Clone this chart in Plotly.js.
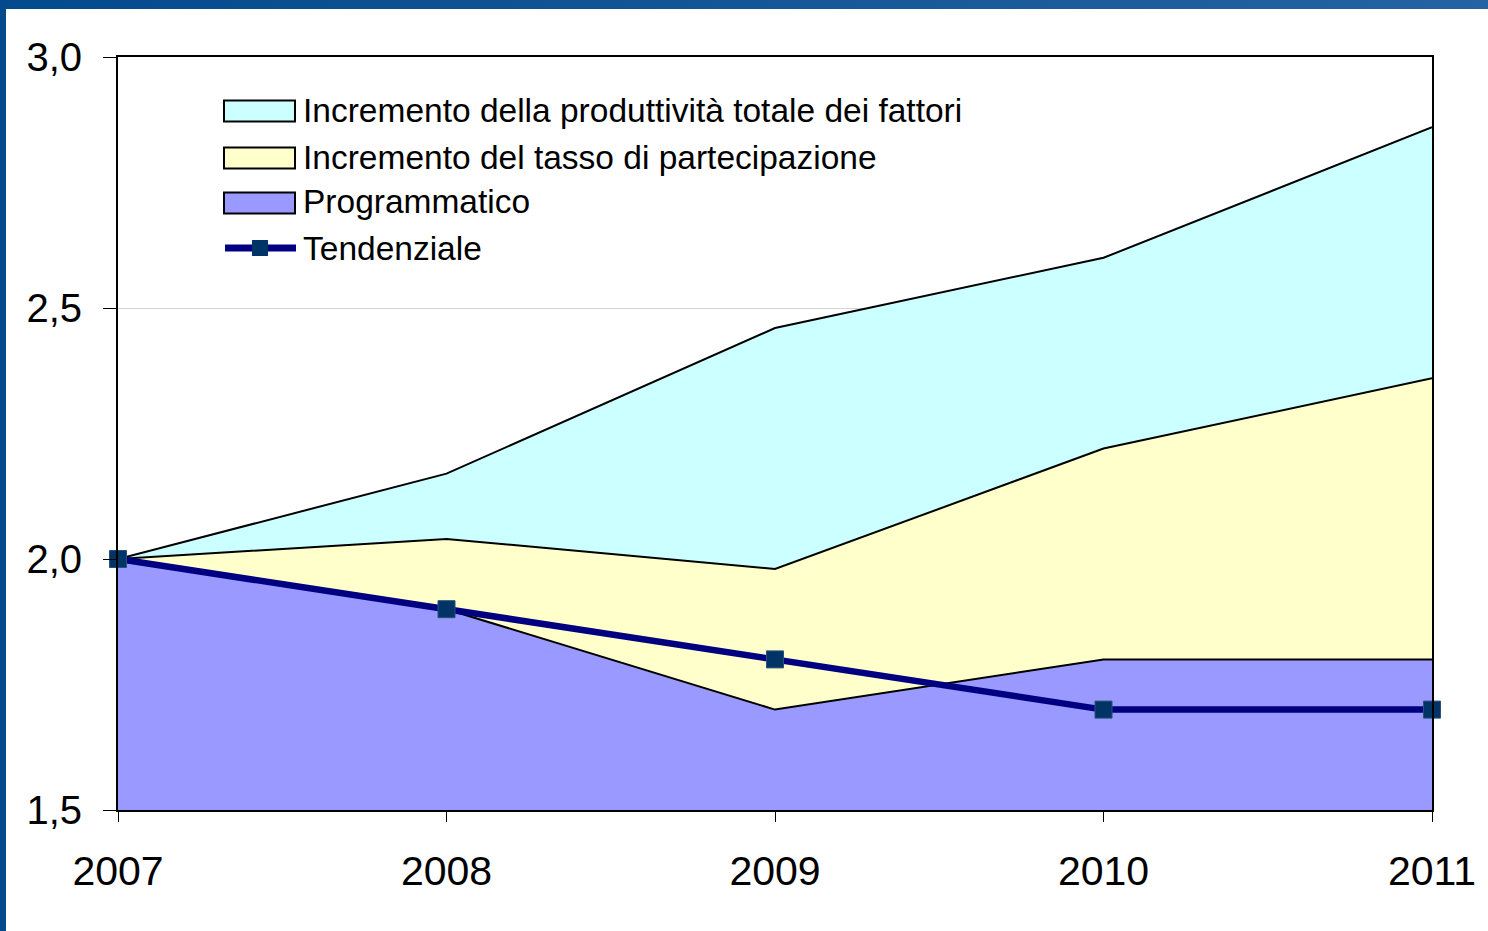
<!DOCTYPE html>
<html>
<head>
<meta charset="utf-8">
<script src="https://cdn.plot.ly/plotly-3.0.1.min.js"></script>
<style>
html,body{margin:0;padding:0;background:#fff;}
#frame{position:absolute;left:0;top:0;width:1488px;height:931px;background:linear-gradient(to right,#034a8c,#2563a3);}
#chart{position:absolute;left:6px;top:9px;width:1482px;height:922px;background:#fff;}
</style>
</head>
<body>
<div id="frame"></div>
<div id="chart"></div>
<script>
var years = [2007, 2008, 2009, 2010, 2011];
var programmatico = [2.0, 1.9, 1.7, 1.8, 1.8];
var incrementoTasso = [0, 0.14, 0.28, 0.42, 0.56];
var incrementoPTF = [0, 0.13, 0.48, 0.38, 0.50];
var tendenziale = [2.0, 1.9, 1.8, 1.7, 1.7];
var yTicks = [1.5, 2.0, 2.5, 3.0];
var seriesNames = ['Incremento della produttività totale dei fattori', 'Incremento del tasso di partecipazione', 'Programmatico', 'Tendenziale'];
var fillColors = ['#CCFFFF', '#FFFFCC', '#9999FF'];
var lineColor = '#000080';
var markerColor = '#003366';

var traces = [
  {x: years, y: programmatico, name: seriesNames[2], type: 'scatter', mode: 'lines',
   stackgroup: 'one', fillcolor: fillColors[2], line: {color: '#000000', width: 2}},
  {x: years, y: incrementoTasso, name: seriesNames[1], type: 'scatter', mode: 'lines',
   stackgroup: 'one', fillcolor: fillColors[1], line: {color: '#000000', width: 2}},
  {x: years, y: incrementoPTF, name: seriesNames[0], type: 'scatter', mode: 'lines',
   stackgroup: 'one', fillcolor: fillColors[0], line: {color: '#000000', width: 2}},
  {x: years, y: tendenziale, name: seriesNames[3], type: 'scatter', mode: 'lines+markers', cliponaxis: false,
   line: {color: lineColor, width: 6.5},
   marker: {symbol: 'square', size: 17, color: markerColor, line: {color: '#2a4f78', width: 1}}}
];

// plot area in page pixels (for the hand-drawn legend)
var PL = 118, PR = 1432, PT = 57, PB = 810;
function px(x) { return (x - PL) / (PR - PL); }
function py(y) { return (PB - y) / (PB - PT); }

var shapes = [], annotations = [];
var rowY = [111, 158, 203, 248];
var textY = [110, 157, 201, 248];
for (var i = 0; i < 3; i++) {
  shapes.push({type: 'rect', xref: 'paper', yref: 'paper',
    x0: px(224), x1: px(295), y0: py(rowY[i] + 10.5), y1: py(rowY[i] - 10.5),
    fillcolor: fillColors[i], line: {color: '#000', width: 2}});
}
shapes.push({type: 'line', xref: 'paper', yref: 'paper', x0: px(225), x1: px(296), y0: py(rowY[3]), y1: py(rowY[3]),
  line: {color: lineColor, width: 7}});
shapes.push({type: 'rect', xref: 'paper', yref: 'paper', x0: px(252), x1: px(268), y0: py(rowY[3] + 8), y1: py(rowY[3] - 8),
  fillcolor: markerColor, line: {width: 0}});
for (var j = 0; j < 4; j++) {
  annotations.push({xref: 'paper', yref: 'paper', x: px(301), y: py(textY[j]), xanchor: 'left', yanchor: 'middle',
    text: seriesNames[j], showarrow: false, font: {size: 33.5, color: '#000'}});
}

var layout = {
  width: 1482, height: 922,
  margin: {l: 112, r: 56, t: 48, b: 121},
  paper_bgcolor: '#ffffff', plot_bgcolor: '#ffffff',
  separators: ',.',
  font: {family: 'Liberation Sans, Arial, sans-serif', color: '#000000'},
  showlegend: false,
  shapes: shapes,
  annotations: annotations,
  xaxis: {range: [2007, 2011], tickvals: years, ticktext: years.map(String), ticks: 'outside', ticklen: 10,
          tickcolor: '#000', tickwidth: 1, showgrid: false, zeroline: false,
          showline: true, linecolor: '#000', linewidth: 2, mirror: true,
          tickfont: {size: 41}, ticklabelstandoff: 14, fixedrange: true},
  yaxis: {range: [1.5, 3.0], tickvals: yTicks, tickformat: '.1f', ticks: 'outside', ticklen: 13,
          tickcolor: '#000', tickwidth: 1, showgrid: true, gridcolor: '#d4d4d4', gridwidth: 1, zeroline: false,
          showline: true, linecolor: '#000', linewidth: 2, mirror: true,
          tickfont: {size: 40}, ticklabelstandoff: 13, fixedrange: true}
};

Plotly.newPlot('chart', traces, layout, {displayModeBar: false, staticPlot: true});
</script>
</body>
</html>
